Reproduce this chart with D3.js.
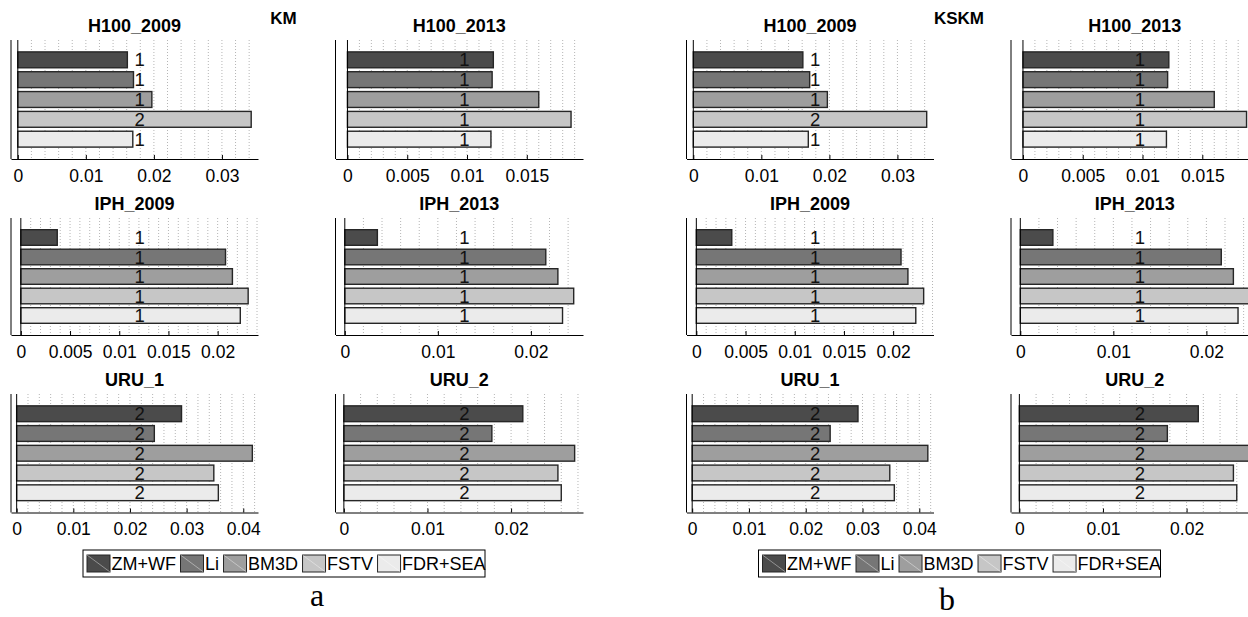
<!DOCTYPE html>
<html>
<head>
<meta charset="utf-8">
<script src="https://cdn.jsdelivr.net/npm/d3@7"></script>
<style>
body { margin: 0; background: #fff; }
svg { display: block; font-family: "Liberation Sans", Arial, sans-serif; }
</style>
</head>
<body>
<div id="chart"></div>
<script>
// methods (bar order top to bottom) and their grey fills
const methods = ["ZM+WF", "Li", "BM3D", "FSTV", "FDR+SEA"];
const methodColors = ["#4b4b4b", "#767676", "#9e9e9e", "#c6c6c6", "#ebebeb"];

const datasets = ["H100_2009", "H100_2013", "IPH_2009", "IPH_2013", "URU_1", "URU_2"];
const tickSteps = [0.01, 0.005, 0.005, 0.01, 0.01, 0.01];

// one row per dataset, one value per method
const kmValues = [
    [0.0161, 0.0170, 0.0197, 0.0343, 0.0169],
    [0.0122, 0.0121, 0.0160, 0.0187, 0.0120],
    [0.0037, 0.0208, 0.0215, 0.0231, 0.0223],
    [0.0035, 0.0216, 0.0229, 0.0246, 0.0234],
    [0.0291, 0.0243, 0.0416, 0.0348, 0.0356],
    [0.0214, 0.0177, 0.0276, 0.0256, 0.0260]
];
const kskmValues = [
    [0.0161, 0.0171, 0.0197, 0.0343, 0.0169],
    [0.0122, 0.0121, 0.0160, 0.0187, 0.0120],
    [0.0036, 0.0208, 0.0215, 0.0231, 0.0223],
    [0.0035, 0.0216, 0.0229, 0.0246, 0.0234],
    [0.0292, 0.0243, 0.0415, 0.0348, 0.0356],
    [0.0214, 0.0177, 0.0276, 0.0256, 0.0260]
];
const kmRanks = [
    [1, 1, 1, 2, 1],
    [1, 1, 1, 1, 1],
    [1, 1, 1, 1, 1],
    [1, 1, 1, 1, 1],
    [2, 2, 2, 2, 2],
    [2, 2, 2, 2, 2]
];
const kskmRanks = kmRanks;

const groups = [
    {name: "KM", caption: "a", values: kmValues, ranks: kmRanks},
    {name: "KSKM", caption: "b", values: kskmValues, ranks: kskmRanks}
];

var width = 1248, height = 617;

// layout of one half (a or b)
var groupX = [0, 675.5];
var colX = [[11, 258], [335.5, 583]];
var rowY = [[40, 159], [218, 335], [394, 512.5]];

var svg = d3.select("#chart").append("svg")
    .attr("width", width)
    .attr("height", height);

var fmt = d3.format("~g");

groups.forEach((grp, gi) => {
    var g = svg.append("g").attr("transform", `translate(${groupX[gi]},0)`);

    datasets.forEach((name, di) => {
        var col = di % 2, row = Math.floor(di / 2);
        var vals = grp.values[di];
        var step = tickSteps[di];

        var x = d3.scaleLinear()
            .domain([-0.001, d3.max(vals) + 0.001])
            .range(colX[col]);
        var y = d3.scaleBand()
            .domain(methods)
            .range(rowY[row])
            .paddingInner(0.2)
            .paddingOuter(0.6);

        var top = rowY[row][0], bottom = rowY[row][1];
        var panel = g.append("g");

        // dotted grid
        var nMinor = Math.floor(x.domain()[1] / (step / 5) + 1e-9);
        var minor = d3.range(1, nMinor + 1).map(i => i * step / 5);
        panel.selectAll("line.grid")
            .data(minor).enter().append("line")
            .attr("x1", d => x(d)).attr("x2", d => x(d))
            .attr("y1", top).attr("y2", bottom)
            .attr("stroke", "#b5b5b5")
            .attr("stroke-width", 1)
            .attr("stroke-dasharray", "1,2");

        // bars
        panel.selectAll("rect.bar")
            .data(vals).enter().append("rect")
            .attr("x", x(0))
            .attr("y", (d, i) => y(methods[i]))
            .attr("width", d => x(d) - x(0))
            .attr("height", y.bandwidth())
            .attr("fill", (d, i) => methodColors[i])
            .attr("stroke", "#262626")
            .attr("stroke-width", 1.4);

        // x axis
        var nTicks = Math.floor(x.domain()[1] / step + 1e-9);
        var ticks = d3.range(0, nTicks + 1).map(i => i * step);
        var xAxis = panel.append("g")
            .attr("transform", `translate(0, ${bottom})`)
            .call(d3.axisBottom(x).tickValues(ticks).tickFormat(fmt).tickSizeInner(-4).tickSizeOuter(0));
        xAxis.select(".domain").attr("stroke", "#000");
        xAxis.selectAll(".tick line").attr("stroke", "#000");
        xAxis.selectAll(".tick text")
            .attr("y", 22.5).attr("dy", 0)
            .attr("fill", "#000")
            .style("font-size", "17.5px")
            .style("font-family", "'Liberation Sans', Arial, sans-serif");

        // left axis and zero baseline
        panel.append("line")
            .attr("x1", x.range()[0]).attr("x2", x.range()[0])
            .attr("y1", top).attr("y2", bottom)
            .attr("stroke", "#000");
        panel.append("line")
            .attr("x1", x(0)).attr("x2", x(0))
            .attr("y1", top).attr("y2", bottom)
            .attr("stroke", "#000");

        // rank labels
        var mid = (x.range()[0] + x.range()[1]) / 2;
        panel.selectAll("text.rank")
            .data(grp.ranks[di]).enter().append("text")
            .attr("x", mid)
            .attr("y", (d, i) => y(methods[i]) + y.bandwidth() / 2)
            .attr("dy", "0.36em")
            .style("font-size", "18.5px")
            .attr("fill", "#111")
            .text(d => d);

        // title
        panel.append("text")
            .attr("x", mid)
            .attr("y", top - 8)
            .attr("text-anchor", "middle")
            .style("font-size", "18px")
            .style("font-weight", "bold")
            .text(name);
    });

    // group name
    g.append("text")
        .attr("x", 283.5).attr("y", 24)
        .attr("text-anchor", "middle")
        .style("font-size", "17px")
        .style("font-weight", "bold")
        .text(grp.name);

    // legend
    var leg = g.append("g").attr("transform", "translate(83, 550)");
    leg.append("rect")
        .attr("width", 402).attr("height", 27)
        .attr("fill", "#fff").attr("stroke", "#000");
    var cx = 4;
    methods.forEach((m, i) => {
        leg.append("rect")
            .attr("x", cx).attr("y", 5)
            .attr("width", 23).attr("height", 17)
            .attr("fill", methodColors[i])
            .attr("stroke", "#262626");
        leg.append("line")
            .attr("x1", cx).attr("y1", 5)
            .attr("x2", cx + 23).attr("y2", 22)
            .attr("stroke", "#fff").attr("stroke-opacity", 0.4);
        var t = leg.append("text")
            .attr("x", cx + 24.5).attr("y", 13.5)
            .attr("dy", "0.36em")
            .style("font-size", "18px")
            .text(m);
        cx += 24.5 + t.node().getComputedTextLength() + 4.5;
    });

    // caption
    g.append("text")
        .attr("x", gi == 0 ? 317 : 271.5).attr("y", gi == 0 ? 606 : 610)
        .attr("text-anchor", "middle")
        .style("font-family", "'Liberation Serif', 'Times New Roman', serif")
        .style("font-size", "32px")
        .text(grp.caption);
});
</script>
</body>
</html>
